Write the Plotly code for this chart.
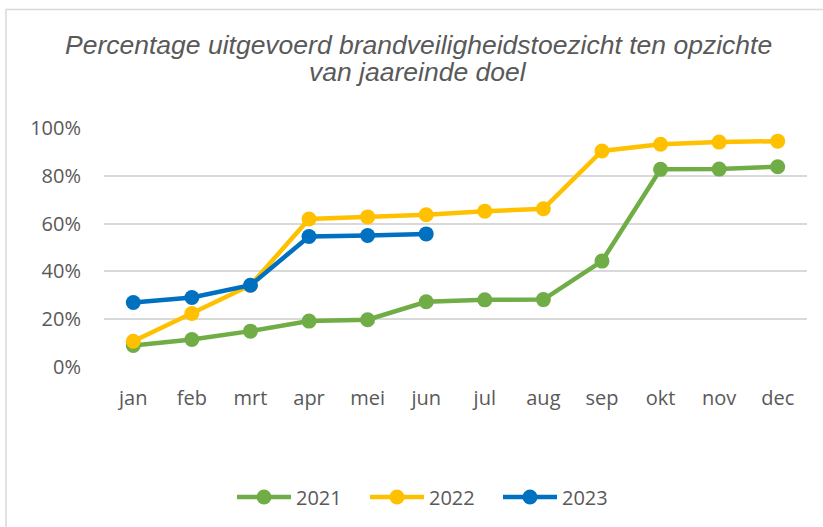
import plotly.graph_objects as go

months = ["jan", "feb", "mrt", "apr", "mei", "jun", "jul", "aug", "sep", "okt", "nov", "dec"]
v2021 = [9.0, 11.5, 15.0, 19.2, 19.8, 27.3, 28.1, 28.2, 44.3, 82.7, 82.8, 83.8]
v2022 = [10.8, 22.4, 34.2, 61.9, 62.8, 63.7, 65.2, 66.2, 90.4, 93.2, 94.1, 94.5]
v2023 = [27.0, 29.1, 34.2, 54.6, 55.0, 55.7]
title_lines = ["Percentage uitgevoerd brandveiligheidstoezicht ten opzichte", "van jaareinde doel"]

series = [("2021", v2021, "#70AD47"), ("2022", v2022, "#FFC000"), ("2023", v2023, "#0070C0")]

W, H = 823, 527
fig = go.Figure()
for name, vals, col in series:
    fig.add_trace(go.Scatter(
        x=months[:len(vals)], y=[v / 100 for v in vals], name=name,
        mode="lines+markers",
        line=dict(color=col, width=4.5),
        marker=dict(color=col, size=15),
    ))

annotations = []
for i, (txt, ypx) in enumerate(zip(title_lines, [45, 72])):
    annotations.append(dict(
        text=txt, xref="paper", yref="paper",
        x=(418 - 104) / 703, y=(368 - ypx) / 240, xanchor="center", yanchor="middle",
        showarrow=False,
        font=dict(family="Liberation Sans", size=26.5, color="#595959", style="italic"),
    ))

fig.update_layout(
    width=W, height=H,
    paper_bgcolor="white", plot_bgcolor="white",
    margin=dict(l=104, r=16, t=128, b=159),
    font=dict(family="Open Sans", color="#595959", size=20),
    xaxis=dict(
        type="category", categoryorder="array", categoryarray=months,
        range=[-0.5, 11.5], showgrid=False, showline=False, zeroline=False,
        ticks="", ticklabelstandoff=17,
        tickfont=dict(size=20, color="#595959"),
    ),
    yaxis=dict(
        range=[0, 1.0], tickvals=[0, 0.2, 0.4, 0.6, 0.8, 1.0], tickformat=".0%",
        showgrid=True, gridcolor="#D9D9D9", gridwidth=1.5,
        zeroline=False, showline=False, ticks="", ticklabelstandoff=22,
        tickfont=dict(size=20, color="#595959"),
    ),
    legend=dict(
        orientation="h", x=(232 - 104) / 703, xanchor="left",
        y=(368 - 497) / 240, yanchor="middle",
        font=dict(size=20, color="#595959"),
        itemwidth=54,
        entrywidth=64, entrywidthmode="pixels",
        bgcolor="rgba(0,0,0,0)",
    ),
    showlegend=True,
    annotations=annotations,
    shapes=[dict(
        type="rect", xref="paper", yref="paper",
        x0=(6 - 104) / 703, x1=1.2, y0=-1.5, y1=(368 - 9) / 240,
        line=dict(color="#D9D9D9", width=1.5), fillcolor="rgba(0,0,0,0)", layer="below",
    )],
)

fig.write_html(
    "out.html",
    config={"displayModeBar": False},
    post_script="document.body.style.margin='0';document.body.style.overflow='hidden';",
)
